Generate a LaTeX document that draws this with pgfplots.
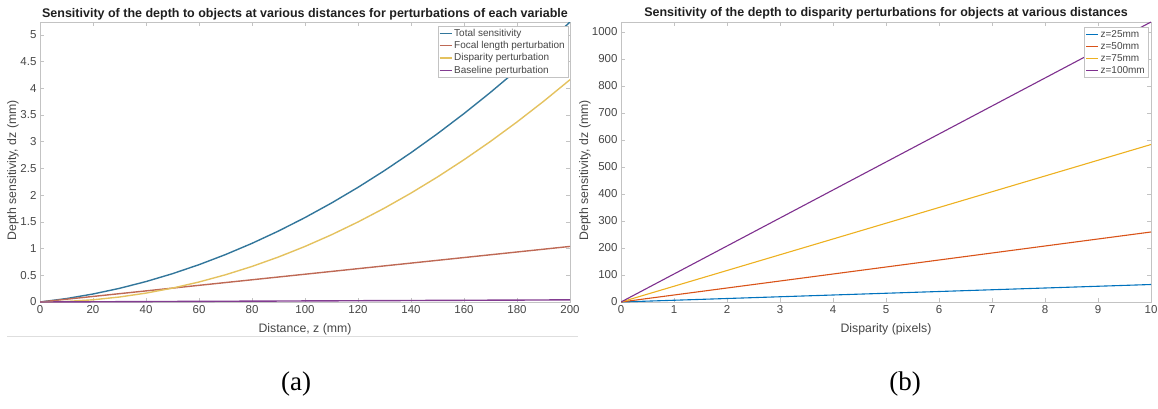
\documentclass[border=0pt]{standalone}
\usepackage{pgfplots}
\pgfplotsset{compat=1.18}
\usepackage{fontspec}
\setmainfont{Liberation Sans}
\newfontfamily\capserif{Liberation Serif}
\definecolor{lTot}{RGB}{50,118,155}
\definecolor{lFoc}{RGB}{190,105,85}
\definecolor{lDis}{RGB}{228,194,95}
\definecolor{lBas}{RGB}{130,60,145}
\definecolor{mBlue}{RGB}{0,114,189}
\definecolor{mOrange}{RGB}{217,83,25}
\definecolor{mYellow}{RGB}{237,177,32}
\definecolor{mPurple}{RGB}{126,47,142}
\definecolor{framegray}{RGB}{195,195,195}
\definecolor{labgray}{RGB}{70,70,70}
\pgfplotsset{
  every axis title shift=0pt,
  mstyle/.style={
    scale only axis, width=530pt, height=280pt,
    axis line style={framegray, line width=0.6pt},
    tick style={framegray, line width=0.6pt},
    major tick length=4pt,
    tick align=inside,
    xtick pos=both, ytick pos=both,
    /pgf/number format/assume math mode=true,
    /pgf/number format/1000 sep={},
    tick label style={font=\fontsize{11.5}{13}\selectfont, text=labgray},
    label style={font=\fontsize{12.3}{14}\selectfont, text=labgray},
    title style={font=\fontsize{12.5}{14}\selectfont\bfseries, text=black!88, at={(axis description cs:0.5,1)}, anchor=base, inner sep=0pt, yshift=5pt},
    xlabel style={at={(axis description cs:0.5,-0.096)}, anchor=center},
    legend style={font=\fontsize{10}{12}\selectfont, draw=framegray, inner sep=1pt, row sep=-0.5pt, text=labgray, cells={anchor=west}, at={(axis description cs:1,1)}, anchor=north east, xshift=-2pt, yshift=-4pt, fill=white},
    legend image code/.code={\draw[#1, line width=1.2pt] (0pt,0pt) -- (12pt,0pt);},
    clip=true,
  }
}
\begin{document}
\begin{tikzpicture}[x=1pt,y=1pt]
\useasboundingbox (0,0) rectangle (1158,408);
\draw[black!13, line width=0.8pt] (7,72) -- (578,72);
\begin{axis}[mstyle,
  at={(40pt,106pt)}, anchor=south west,
  xmin=0, xmax=200, ymin=0, ymax=5.24,
  xtick={0,20,...,200}, ytick={0,0.5,...,5},
  yticklabels={0,0.5,1,1.5,2,2.5,3,3.5,4,4.5,5},
  title={Sensitivity of the depth to objects at various distances for perturbations of each variable},
  xlabel={Distance, z (mm)},
  ylabel={Depth sensitivity, dz (mm)},
  ylabel style={at={(axis description cs:-0.051,0.47)}, anchor=center},
]
\addplot[lTot, line width=1.4pt] coordinates {(0,0) (10,0.0644) (20,0.1496) (30,0.2556) (40,0.3824) (50,0.53) (60,0.6984) (70,0.8876) (80,1.0976) (90,1.3284) (100,1.58) (110,1.8524) (120,2.1456) (130,2.4596) (140,2.7944) (150,3.15) (160,3.5264) (170,3.9236) (180,4.3416) (190,4.7804) (200,5.24)};
\addlegendentry{Total sensitivity}
\addplot[lFoc, line width=1.4pt] coordinates {(0,0) (10,0.052) (20,0.104) (30,0.156) (40,0.208) (50,0.26) (60,0.312) (70,0.364) (80,0.416) (90,0.468) (100,0.52) (110,0.572) (120,0.624) (130,0.676) (140,0.728) (150,0.78) (160,0.832) (170,0.884) (180,0.936) (190,0.988) (200,1.04)};
\addlegendentry{Focal length perturbation}
\addplot[lDis, line width=1.4pt] coordinates {(0,0) (10,0.0104) (20,0.0416) (30,0.0936) (40,0.1664) (50,0.26) (60,0.3744) (70,0.5096) (80,0.6656) (90,0.8424) (100,1.04) (110,1.2584) (120,1.4976) (130,1.7576) (140,2.0384) (150,2.34) (160,2.6624) (170,3.0056) (180,3.3696) (190,3.7544) (200,4.16)};
\addlegendentry{Disparity perturbation}
\addplot[lBas, line width=1.4pt] coordinates {(0,0) (50,0.01) (100,0.02) (150,0.03) (200,0.04)};
\addlegendentry{Baseline perturbation}
\end{axis}
\begin{axis}[mstyle,
  at={(621pt,106pt)}, anchor=south west,
  xmin=0, xmax=10, ymin=0, ymax=1037,
  xtick={0,1,...,10}, ytick={0,100,...,1000},
  title={Sensitivity of the depth to disparity perturbations for objects at various distances},
  xlabel={Disparity (pixels)},
  ylabel={Depth sensitivity, dz (mm)},
  ylabel style={at={(axis description cs:-0.068,0.47)}, anchor=center},
  legend style={xshift=-1pt, yshift=-1pt},
  legend image code/.code={\draw[#1, line width=1.1pt] (0pt,0pt) -- (12pt,0pt);},
]
\addplot[mBlue, line width=1.1pt] coordinates {(0,0) (5,32.4) (10,64.8)};
\addlegendentry{z=25mm}
\addplot[mOrange, line width=1.1pt] coordinates {(0,0) (5,129.6) (10,259.3)};
\addlegendentry{z=50mm}
\addplot[mYellow, line width=1.1pt] coordinates {(0,0) (5,291.7) (10,583.3)};
\addlegendentry{z=75mm}
\addplot[mPurple, line width=1.1pt] coordinates {(0,0) (5,518.5) (10,1037)};
\addlegendentry{z=100mm}
\end{axis}
\node[font=\capserif\fontsize{27}{30}\selectfont] at (296,24) {(a)};
\node[font=\capserif\fontsize{27}{30}\selectfont] at (905,24) {(b)};
\end{tikzpicture}
\end{document}
